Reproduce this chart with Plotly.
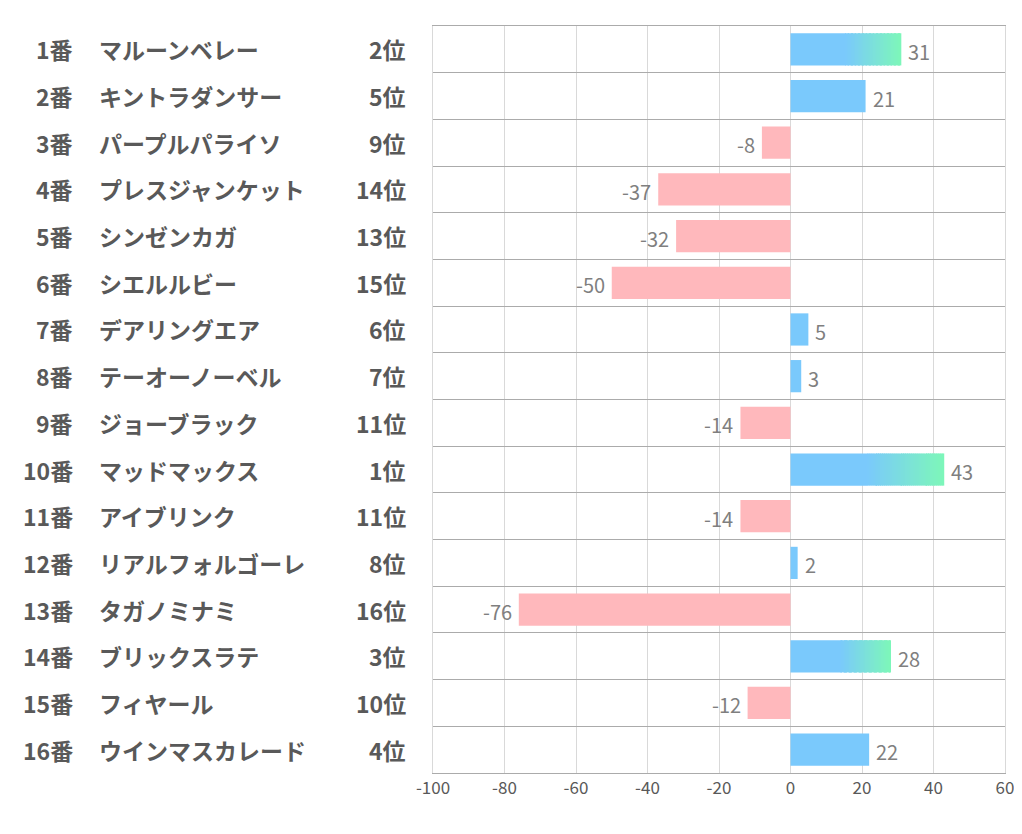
import plotly.graph_objects as go

numbers = ["1番", "2番", "3番", "4番", "5番", "6番", "7番", "8番",
           "9番", "10番", "11番", "12番", "13番", "14番", "15番", "16番"]
names = ["マルーンベレー", "キントラダンサー", "パープルパライソ", "プレスジャンケット",
         "シンゼンカガ", "シエルルビー", "デアリングエア", "テーオーノーベル",
         "ジョーブラック", "マッドマックス", "アイブリンク", "リアルフォルゴーレ",
         "タガノミナミ", "ブリックスラテ", "フィヤール", "ウインマスカレード"]
ranks = ["2位", "5位", "9位", "14位", "13位", "15位", "6位", "7位",
         "11位", "1位", "11位", "8位", "16位", "3位", "10位", "4位"]
values = [31, 21, -8, -37, -32, -50, 5, 3, -14, 43, -14, 2, -76, 28, -12, 22]
x_ticks = [-100, -80, -60, -40, -20, 0, 20, 40, 60]

BLUE = (122, 201, 252)
GREEN = (125, 247, 185)
PINK = "#FFB8BC"
N_SEG = 40

rank_num = [int(r.replace("位", "")) for r in ranks]
grad = [rn <= 3 for rn in rank_num]

fig = go.Figure()

# base bars (full value for plain bars, first half for gradient bars)
base_x = [v / 2 if g else v for v, g in zip(values, grad)]
base_col = [PINK if v < 0 else "rgb(%d,%d,%d)" % BLUE for v in values]
fig.add_trace(go.Bar(
    x=base_x, y=numbers, orientation="h",
    marker=dict(color=base_col, line=dict(width=0)),
    hoverinfo="skip", showlegend=False,
))

# gradient segments for top-3 bars
for i in range(N_SEG):
    t = (i + 0.5) / N_SEG
    col = "rgb(%d,%d,%d)" % tuple(round(BLUE[k] + (GREEN[k] - BLUE[k]) * t) for k in range(3))
    seg = [(v / 2) / N_SEG if g else 0 for v, g in zip(values, grad)]
    fig.add_trace(go.Bar(
        x=seg, y=numbers, orientation="h",
        marker=dict(color=col, line=dict(width=0)),
        hoverinfo="skip", showlegend=False,
    ))

annotations = []
val_font = dict(family="Noto Sans CJK JP", size=20, color="#7F7F7F")
for num, v in zip(numbers, values):
    annotations.append(dict(x=v, y=num, xref="x", yref="y", text=str(v), showarrow=False,
                            xanchor="left" if v >= 0 else "right", yanchor="middle",
                            xshift=5 if v >= 0 else -5, yshift=-2, font=val_font))

lab_font = dict(family="Noto Sans CJK JP", size=23, color="#595959")
for num, nm, rk in zip(numbers, names, ranks):
    annotations.append(dict(x=-0.626, y=num, xref="paper", yref="y", text="<b>%s</b>" % num,
                            showarrow=False, xanchor="right", yanchor="middle", font=lab_font))
    annotations.append(dict(x=-0.588, y=num, xref="paper", yref="y", text="<b>%s</b>" % nm,
                            showarrow=False, xanchor="left", yanchor="middle", font=lab_font))
    annotations.append(dict(x=-0.0437, y=num, xref="paper", yref="y", text="<b>%s</b>" % rk,
                            showarrow=False, xanchor="right", yanchor="middle", font=lab_font))

fig.update_layout(
    width=1014, height=826,
    margin=dict(l=425, r=17, t=18, b=61),
    paper_bgcolor="white", plot_bgcolor="white",
    barmode="relative", bargap=0.31,
    annotations=annotations,
    xaxis=dict(
        range=[-100, 60], tickvals=x_ticks, ticktext=[str(v) for v in x_ticks],
        showgrid=True, gridcolor="#D9D9D9", gridwidth=1,
        zeroline=False, showline=True, mirror=True, linecolor="#ABABAB", linewidth=1,
        ticks="", tickfont=dict(family="Noto Sans CJK JP", size=17, color="#595959"),
        automargin=False, fixedrange=True,
    ),
    yaxis=dict(
        type="category", categoryorder="array", categoryarray=numbers,
        range=[len(numbers) - 0.5, -0.5], tickson="boundaries",
        showgrid=True, gridcolor="#ABABAB", gridwidth=1,
        showticklabels=False, ticks="", zeroline=False,
        showline=True, mirror=True, linecolor="#D9D9D9", linewidth=1,
        automargin=False, fixedrange=True,
    ),
)

fig.write_html("out.html")
